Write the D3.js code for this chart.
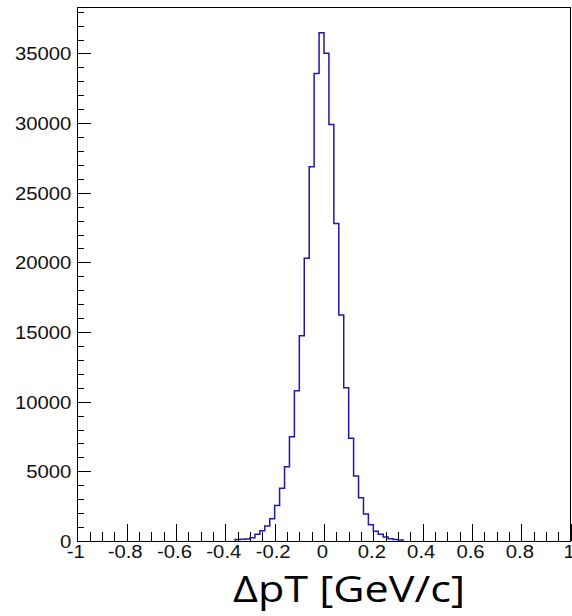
<!DOCTYPE html>
<html>
<head>
<meta charset="utf-8">
<script src="https://cdn.jsdelivr.net/npm/d3@7"></script>
<style>
  body { margin: 0; background: #fff; }
  .axis text { font-family: "Liberation Sans", Arial, sans-serif; font-size: 17.5px; fill: #111; }
  .axis path, .axis line { stroke: #000; shape-rendering: crispEdges; }
</style>
</head>
<body>
<div id="chart"></div>
<script>
// histogram bins (low edge, width 0.02) and their entries
var binLow = [-0.36, -0.34, -0.32, -0.30, -0.28, -0.26, -0.24, -0.22, -0.20, -0.18,
              -0.16, -0.14, -0.12, -0.10, -0.08, -0.06, -0.04, -0.02, 0.00, 0.02,
              0.04, 0.06, 0.08, 0.10, 0.12, 0.14, 0.16, 0.18, 0.20, 0.22,
              0.24, 0.26, 0.28, 0.30];
var counts = [100, 120, 150, 240, 480, 740, 1080, 1600, 2540, 3780,
              5330, 7490, 10790, 14740, 20300, 26870, 33570, 36490, 35010, 29900,
              22800, 16220, 11000, 7370, 4670, 3110, 1940, 1170, 700, 480,
              290, 170, 100, 80];
var binWidth = 0.02;

var xTicks = [-1, -0.8, -0.6, -0.4, -0.2, 0, 0.2, 0.4, 0.6, 0.8, 1];
var yTicks = [0, 5000, 10000, 15000, 20000, 25000, 30000, 35000];
var xTitle = "ΔpT [GeV/c]";

var width = 572, height = 616;
var stretch = 1.16; // labels in the picture are a little wide

var svg = d3.select("#chart").append("svg")
    .attr("width", width)
    .attr("height", height);

var yMax = d3.max(counts) * 1.05;

var x = d3.scaleLinear().domain([-1, 1]).range([77.3, 570.7]);
var y = d3.scaleLinear().domain([0, yMax]).range([541, 7.3]);

// minor ticks first
svg.append("g")
    .attr("class", "axis")
    .attr("transform", "translate(0," + y(0) + ")")
    .call(d3.axisBottom(x).tickValues(d3.range(-1, 1.001, 0.05)).tickSize(-9).tickSizeOuter(0).tickFormat(""));

svg.append("g")
    .attr("class", "axis")
    .attr("transform", "translate(" + x(-1) + ",0)")
    .call(d3.axisLeft(y).tickValues(d3.range(0, yMax, 1000)).tickSize(-7).tickSizeOuter(0).tickFormat(""));

// major ticks with labels
var gx = svg.append("g")
    .attr("class", "axis")
    .attr("transform", "translate(0," + y(0) + ")")
    .call(d3.axisBottom(x).tickValues(xTicks).tickSize(-17).tickSizeOuter(0)
        .tickFormat(function(d) { return String(+d.toFixed(1)); }));
gx.selectAll(".tick text")
    .attr("y", 5)
    .attr("dy", "0.71em")
    .attr("x", -2 / stretch)
    .attr("transform", "scale(" + stretch + ",1)");

var gy = svg.append("g")
    .attr("class", "axis")
    .attr("transform", "translate(" + x(-1) + ",0)")
    .call(d3.axisLeft(y).tickValues(yTicks).tickSize(-14).tickSizeOuter(0)
        .tickFormat(function(d) { return String(d); }));
gy.selectAll(".tick text")
    .attr("x", -6 / stretch)
    .attr("dy", "0.36em")
    .attr("transform", "scale(" + stretch + ",1)");

// frame
svg.append("rect")
    .attr("x", x(-1))
    .attr("y", y(yMax))
    .attr("width", x(1) - x(-1))
    .attr("height", y(0) - y(yMax))
    .attr("fill", "none")
    .attr("stroke", "#000")
    .attr("shape-rendering", "crispEdges");

// histogram outline
var pts = [[binLow[0], 0]];
binLow.forEach(function(lo, i) {
    pts.push([lo, counts[i]]);
    pts.push([lo + binWidth, counts[i]]);
});
pts.push([binLow[binLow.length - 1] + binWidth, 0]);

var line = d3.line()
    .x(function(d) { return x(d[0]); })
    .y(function(d) { return y(d[1]); });

svg.append("path")
    .datum(pts)
    .attr("d", line)
    .attr("fill", "none")
    .attr("stroke", "#1a1aa6")
    .attr("stroke-width", 1.5);

// axis title
svg.append("text")
    .attr("x", 349)
    .attr("y", 602)
    .attr("text-anchor", "middle")
    .attr("textLength", 232)
    .attr("lengthAdjust", "spacingAndGlyphs")
    .style("font-family", "'Open Sans', Lato, sans-serif")
    .style("font-size", "37px")
    .style("fill", "#000")
    .text(xTitle);
</script>
</body>
</html>
